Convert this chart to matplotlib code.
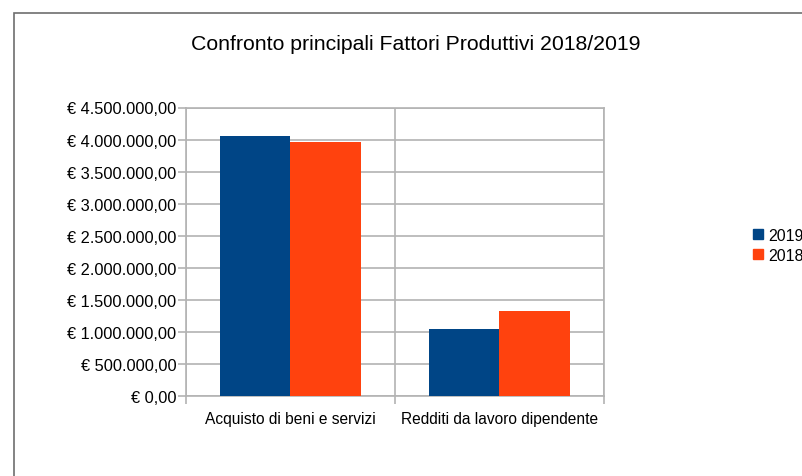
import matplotlib
matplotlib.use('Agg')
import matplotlib.pyplot as plt
from matplotlib.patches import Rectangle, Patch
from matplotlib.ticker import FuncFormatter, FixedLocator

plt.rcParams['font.family'] = ['Liberation Sans', 'DejaVu Sans']

# Data
categories = ['Acquisto di beni e servizi', 'Redditi da lavoro dipendente']
values_2019 = [4050000, 1045000]
values_2018 = [3955000, 1325000]
series_names = ['2019', '2018']
colors = ['#004586', '#ff420e']


def euro(v, pos):
    s = '{:,.2f}'.format(v)
    s = s.replace(',', 'X').replace('.', ',').replace('X', '.')
    return '€ ' + s


def draw_chart():
    fig = plt.figure(figsize=(8.03, 4.77), dpi=100)
    W, H = 803, 477

    # outer frame (LibreOffice chart border)
    fig.patches.append(Rectangle((14 / W, -0.1), 1.2, (H - 14) / H + 0.1,
                                 transform=fig.transFigure, fill=False,
                                 edgecolor='#6e6e6e', linewidth=1.2))

    ax = fig.add_axes([186 / W, 80 / H, 418 / W, 288.5 / H])
    width = 0.335
    xs = list(range(len(categories)))
    ax.bar([x - width / 2 for x in xs], values_2019, width, color=colors[0], zorder=3)
    ax.bar([x + width / 2 for x in xs], values_2018, width, color=colors[1], zorder=3)

    ax.set_xlim(-0.5, 1.5)
    ax.set_ylim(0, 4500000)
    ax.yaxis.set_major_locator(FixedLocator([i * 500000 for i in range(10)]))
    ax.yaxis.set_major_formatter(FuncFormatter(euro))
    ax.set_xticks(xs)
    ax.set_xticklabels(categories)
    ax.set_xticks([-0.5, 0.5, 1.5], minor=True)
    ax.tick_params(axis='x', which='major', length=0, pad=11, labelsize=11.2)
    ax.tick_params(axis='x', which='minor', length=6, color='#b3b3b3', width=1.2)
    ax.tick_params(axis='y', length=6, color='#b3b3b3', width=1.2, pad=1,
                   labelsize=11.8)
    ax.grid(axis='y', color='#b3b3b3', linewidth=1.2, zorder=0)
    ax.grid(axis='x', which='minor', color='#b3b3b3', linewidth=1.2, zorder=0)
    for sp in ax.spines.values():
        sp.set_color('#b3b3b3')
        sp.set_linewidth(1.2)

    fig.text(415.5 / W, 1 - 45 / H, 'Confronto principali Fattori Produttivi 2018/2019',
             ha='center', va='center', fontsize=15.3)

    handles = [Patch(color=c) for c in colors]
    fig.legend(handles, series_names, loc='upper left', frameon=False,
               bbox_to_anchor=(745 / W, 1 - 221 / H), bbox_transform=fig.transFigure,
               handlelength=0.6, handleheight=0.6, handletextpad=0.35,
               labelspacing=0.3, borderpad=0, fontsize=11.5)

    fig.savefig('out.png', dpi=100)


if __name__ == '__main__':
    draw_chart()
